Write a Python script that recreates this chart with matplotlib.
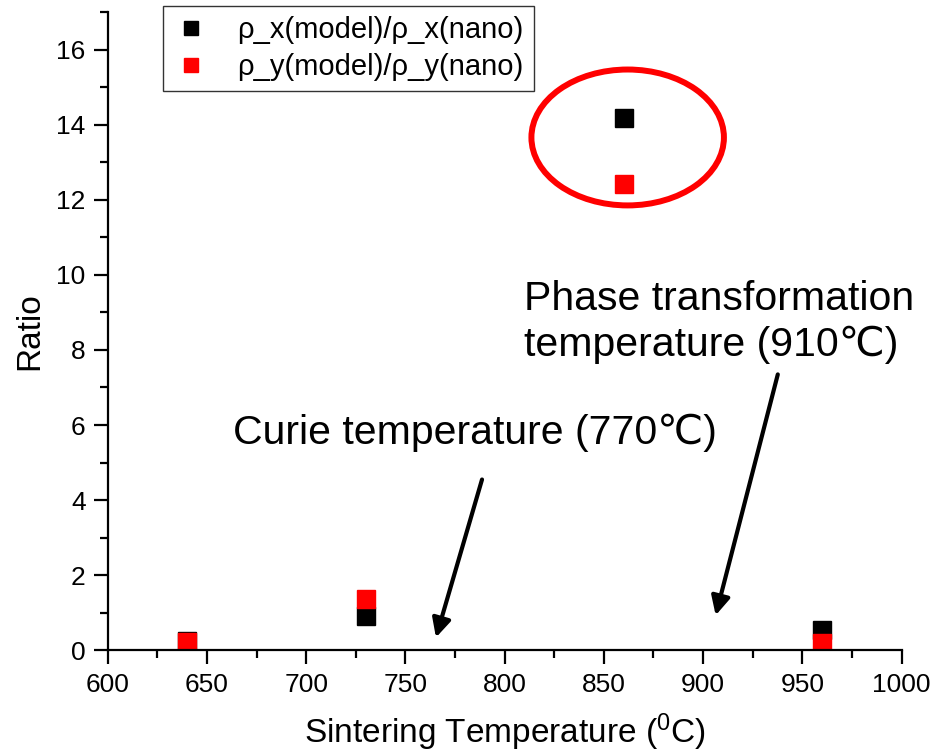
import matplotlib
matplotlib.use("Agg")
import matplotlib.pyplot as plt
from matplotlib.patches import Ellipse
from matplotlib.ticker import MultipleLocator

plt.rcParams['font.family'] = ['Liberation Sans', 'DejaVu Sans']
plt.rcParams['mathtext.default'] = 'regular'

# sintering temperatures and the two resistivity ratios
temps = [640, 730, 860, 960]
ratio_x = [0.24, 0.90, 14.19, 0.53]
ratio_y = [0.22, 1.37, 12.41, 0.20]

label_x = "ρ_x(model)/ρ_x(nano)"
label_y = "ρ_y(model)/ρ_y(nano)"

fig = plt.figure(figsize=(9.45, 7.55), dpi=100)
ax = fig.add_axes([0.114, 0.1387, 0.840, 0.8453])

ax.plot(temps, ratio_x, 's', color='black', markersize=13, label=label_x)
ax.plot(temps, ratio_y, 's', color='red', markersize=13, label=label_y)

# circle around the outliers at 860
ax.add_patch(Ellipse((862, 13.66), 97, 3.62, fill=False, edgecolor='red', linewidth=4.3))

# transition temperature annotations
ax.annotate('', xy=(765, 0.27), xytext=(789, 4.62),
            arrowprops=dict(arrowstyle='-|>', color='black', lw=3, mutation_scale=28))
ax.text(663, 5.5, 'Curie temperature (770℃)', fontsize=29.5, ha='left', va='baseline')

ax.annotate('', xy=(906, 0.86), xytext=(938, 7.42),
            arrowprops=dict(arrowstyle='-|>', color='black', lw=3, mutation_scale=28))
ax.text(810, 7.83, 'Phase transformation\ntemperature (910℃)', fontsize=29.5,
        ha='left', va='baseline', linespacing=1.25)

ax.set_xlim(600, 1000)
ax.set_ylim(0, 17)
ax.xaxis.set_major_locator(MultipleLocator(50))
ax.xaxis.set_minor_locator(MultipleLocator(25))
ax.yaxis.set_major_locator(MultipleLocator(2))
ax.yaxis.set_minor_locator(MultipleLocator(1))

for side in ['top', 'right']:
    ax.spines[side].set_visible(False)
for side in ['left', 'bottom']:
    ax.spines[side].set_linewidth(1.6)

ax.tick_params(which='major', length=10, width=1.6, labelsize=19, pad=6)
ax.tick_params(which='minor', length=6, width=1.6)

ax.set_xlabel('Sintering Temperature ($^{0}$C)', fontsize=24, labelpad=11)
ax.set_ylabel('Ratio', fontsize=24, labelpad=8)

leg = fig.legend(loc='upper left', bbox_to_anchor=(163 / 945, 1 - 6 / 755),
                 fontsize=21, frameon=True, fancybox=False, edgecolor='black',
                 markerscale=0.75, borderaxespad=0, handlelength=1.2,
                 handletextpad=1.0, borderpad=0.35, labelspacing=0.3)
leg.get_frame().set_linewidth(1.0)

fig.savefig('out.png', dpi=100)
